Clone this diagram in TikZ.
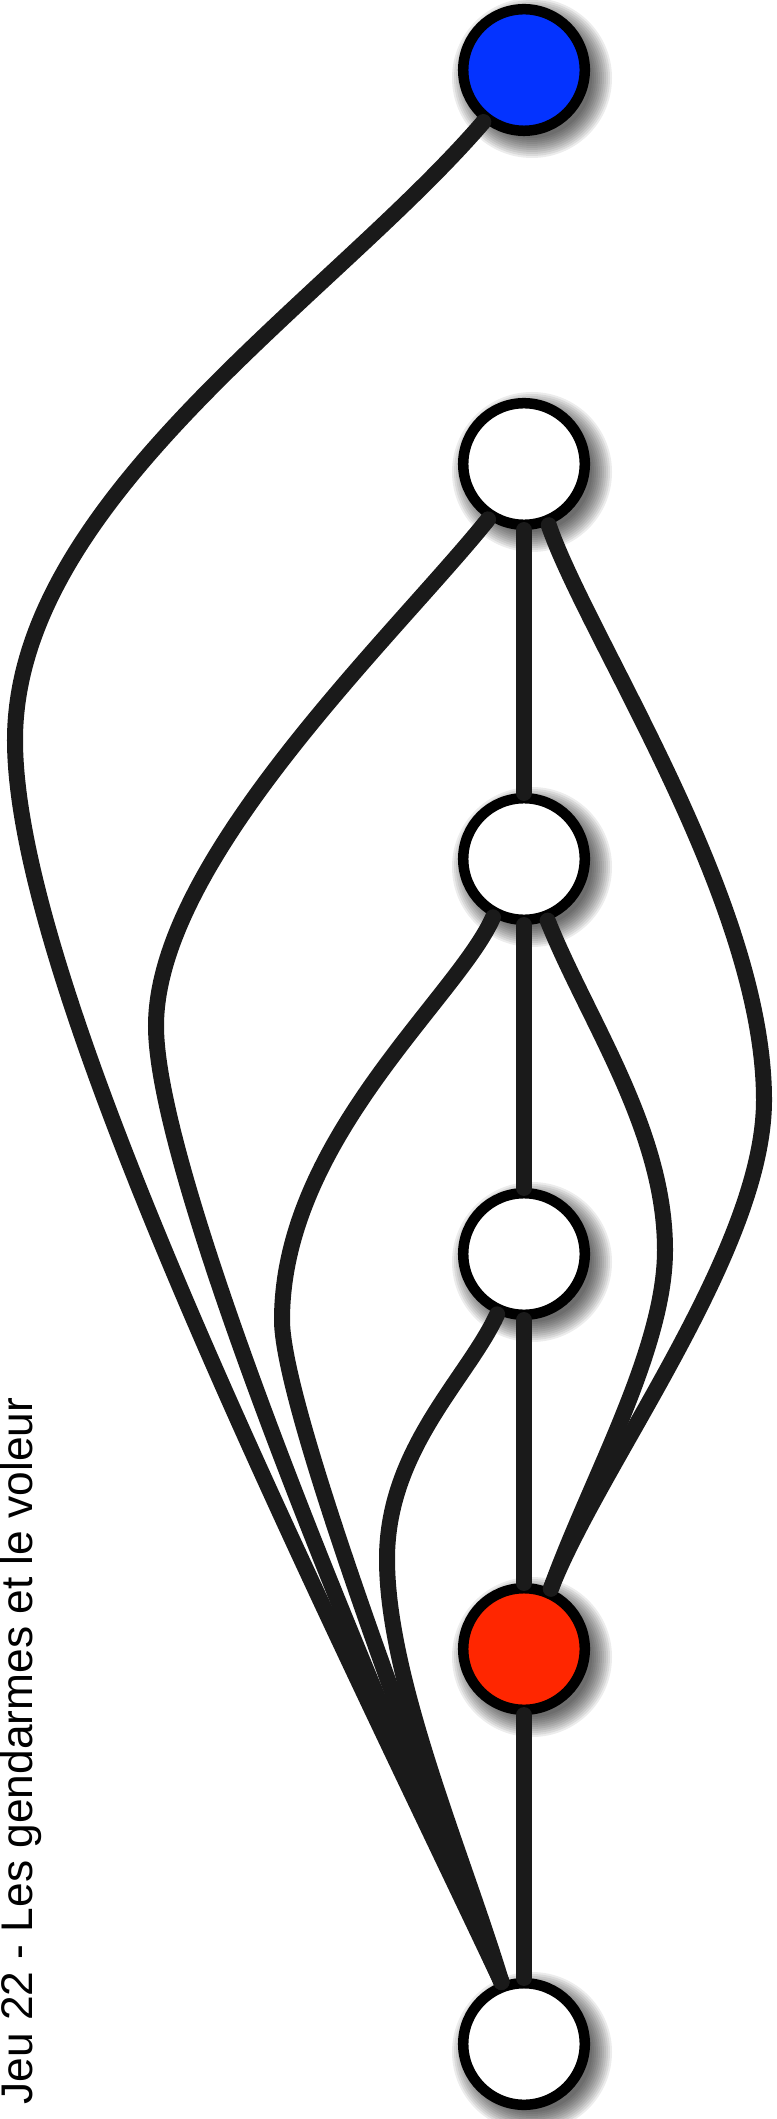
\documentclass[tikz,border=0pt]{standalone}
\usepackage{fontspec}
\setmainfont{Liberation Sans}
\definecolor{edgegray}{HTML}{1A1A1A}
\definecolor{copblue}{HTML}{0433FF}
\definecolor{thiefred}{HTML}{FF2600}
\begin{document}
\begin{tikzpicture}[x=0.01cm,y=-0.01cm,
  vertex/.style={circle, draw=black, line width=0.105cm, minimum size=1.215cm, inner sep=0pt, fill=white},
  shadowring/.style={fill=black, opacity=0.075},
  link/.style={draw=edgegray, line width=0.16cm, line cap=round}]
\useasboundingbox (0,0) rectangle (777,2119);
% soft shadows behind the nodes
\foreach \cy in {70,464,859,1254,1649,2044}{
  \foreach \r in {60,62,...,80}{
    \fill[shadowring] (532,\cy+8) circle[radius={\r*0.01cm}];
  }
}
\node[vertex, fill=copblue] (n0) at (524,70) {};
\node[vertex] (n1) at (524,464) {};
\node[vertex] (n2) at (524,859) {};
\node[vertex] (n3) at (524,1254) {};
\node[vertex, fill=thiefred] (n4) at (524,1649) {};
\node[vertex] (n5) at (524,2044) {};
% straight edges
\draw[link] (n1) -- (n2);
\draw[link] (n2) -- (n3);
\draw[link] (n3) -- (n4);
\draw[link] (n4) -- (n5);
% curved edges
\draw[link] (n0.232) .. controls (330,300) and (15,500) .. (15,740)
  .. controls (15,990) and (314,1585) .. (n5.110);
\draw[link] (n1.237) .. controls (395,635) and (156,860) .. (156,1026)
  .. controls (156,1176) and (367,1685) .. (n5.110);
\draw[link] (n1.292) .. controls (588,639) and (764,900) .. (764,1100)
  .. controls (764,1250) and (600,1463) .. (n4.66);
\draw[link] (n2.242) .. controls (458,997) and (282,1140) .. (282,1320)
  .. controls (282,1420) and (470,1900) .. (n5.110);
\draw[link] (n2.291) .. controls (588,1021) and (665,1130) .. (665,1250)
  .. controls (665,1350) and (590,1480) .. (n4.66);
\draw[link] (n3.246) .. controls (468,1378) and (387,1449) .. (387,1559)
  .. controls (387,1680) and (463,1855) .. (n5.110);
\node[rotate=90, anchor=base, inner sep=0pt, font=\fontsize{12.6pt}{15pt}\selectfont] (title) at (32,1751) {Jeu 22 - Les gendarmes et le voleur};
\end{tikzpicture}
\end{document}
